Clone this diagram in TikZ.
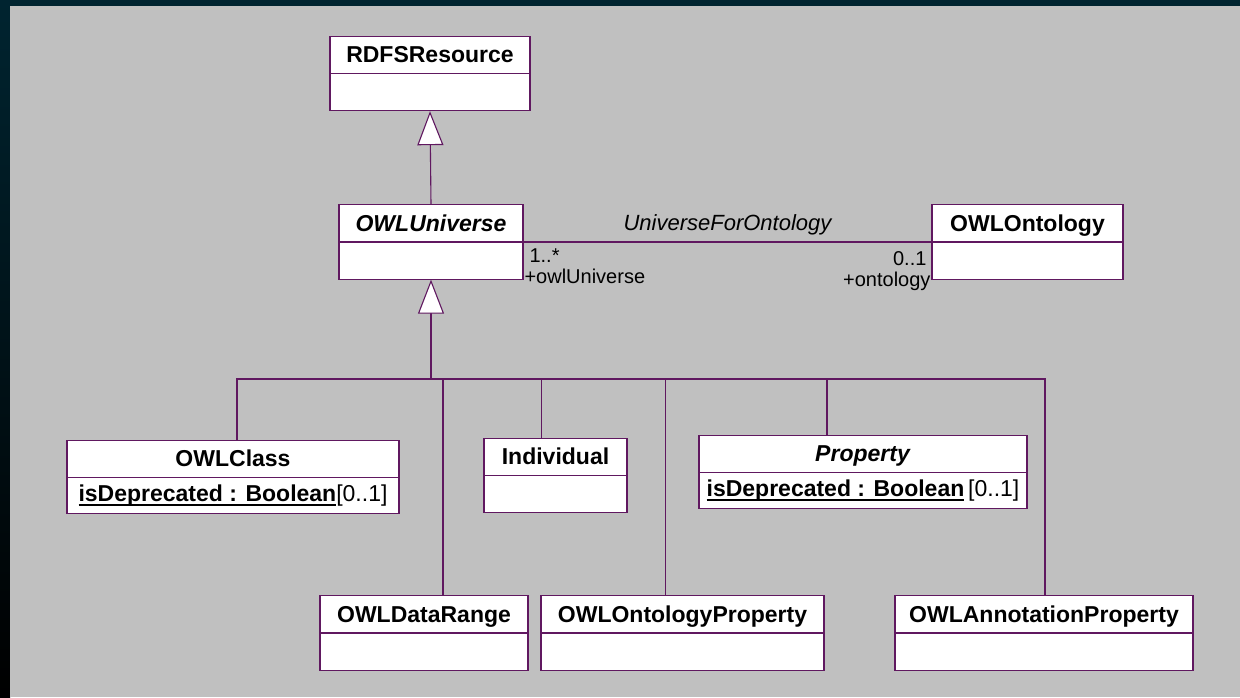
\documentclass[tikz,border=0pt]{standalone}
\usepackage{fontspec}
\setmainfont{Liberation Sans}
\usepackage{tikz}
\usetikzlibrary{shapes,arrows.meta}

\definecolor{umlline}{RGB}{96,24,96}
\definecolor{canvas}{RGB}{192,192,192}
\definecolor{frametop}{RGB}{0,36,48}

\newcommand{\ulattr}[1]{\setbox0\hbox{#1}\rlap{\rule[-4.5pt]{\wd0}{2.5pt}}\box0}

\begin{document}
\begin{tikzpicture}
[x=1pt, y=-1pt, line width=1.1pt,
 umlclass/.style={rectangle split, rectangle split parts=2, draw=umlline,
   fill=white, text height=19pt, text depth=3pt, inner ysep=7pt,
   rectangle split empty part height=19pt,
   rectangle split empty part depth=3pt,
   font=\fontsize{23}{27}\selectfont\bfseries},
 role/.style={inner sep=0pt, font=\fontsize{20}{21}\selectfont},
 inherit/.style={draw=umlline, -{Triangle[width=26pt,length=34pt,fill=white]}}]

% frame
\useasboundingbox (0,0) rectangle (1240,697);
\fill[frametop] (0,0) rectangle (1240,697);
\shade[top color=frametop, bottom color=black] (0,0) rectangle (10,697);
\fill[canvas] (10,6) rectangle (1240,697);

\node[umlclass, minimum width=200pt] (rdfs) at (430,73.5) {RDFSResource\nodepart{two}};
\node[umlclass, minimum width=184pt] (owluniverse) at (431,242) {\textit{OWLUniverse}\nodepart{two}};
\node[umlclass, minimum width=191pt] (owlontology) at (1027.5,242) {OWLOntology\nodepart{two}};

\node[umlclass, minimum width=332pt] (owlclass) at (233,477)
  {OWLClass\nodepart{two}\ulattr{isDeprecated : Boolean}\mdseries[0..1]};
\node[umlclass, minimum width=143pt] (individual) at (555.5,475.5) {Individual\nodepart{two}};
\node[umlclass, minimum width=328pt] (property) at (863,472)
  {\textit{Property}\nodepart{two}\ulattr{isDeprecated : Boolean}\mdseries\,[0..1]};

\node[umlclass, minimum width=208pt] (datarange) at (424,633) {OWLDataRange\nodepart{two}};
\node[umlclass, minimum width=283pt] (ontprop) at (682.5,633) {OWLOntologyProperty\nodepart{two}};
\node[umlclass, minimum width=298pt] (annprop) at (1044,633) {OWLAnnotationProperty\nodepart{two}};

% generalisation
\draw[inherit] (owluniverse.north) -- (rdfs.south);
\coordinate (bus) at (431,379);
\draw[inherit] (bus) -- (owluniverse.south);

\draw[umlline] ([xshift=4pt]owlclass.north) |- (bus);
\draw[umlline] ([xshift=19pt]datarange.north) |- (bus);
\draw[umlline] ([xshift=-14pt]individual.north) |- (bus);
\draw[umlline] ([xshift=-17pt]ontprop.north) |- (bus);
\draw[umlline] ([xshift=-36pt]property.north) |- (bus);
\draw[umlline] ([xshift=1pt]annprop.north) |- (bus);

% association
\draw[umlline] (owluniverse.east) -- node[above=3pt, font=\fontsize{22}{24}\selectfont\itshape, text=black] (assocname) {UniverseForOntology} (owlontology.west);
\node[role, anchor=north west, align=left] (urole) at (524,248) {\kern5pt1..*\\+owlUniverse};
\node[role, anchor=north east, align=right] (orole) at (931,251) {0..1\kern4pt\\+ontology};

\end{tikzpicture}
\end{document}
